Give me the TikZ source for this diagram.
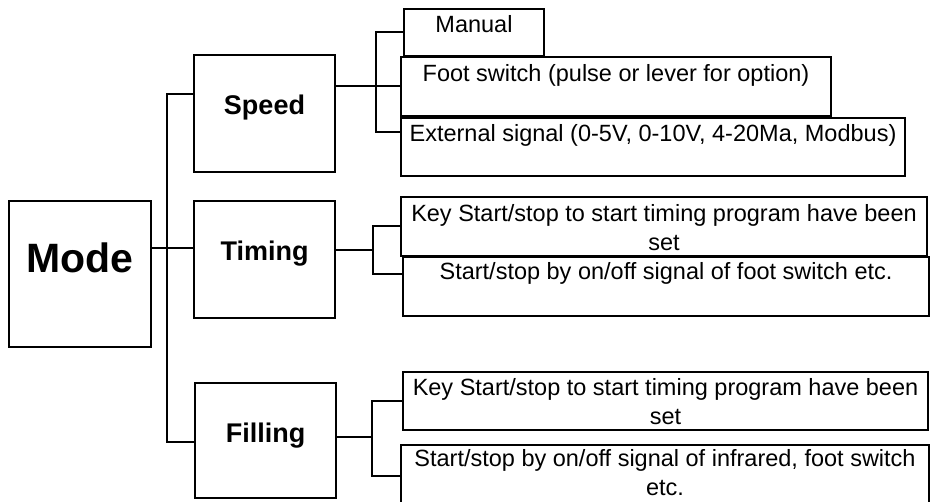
\documentclass[tikz,border=0pt]{standalone}
\usepackage{fontspec}
\setmainfont{Liberation Sans}
\usetikzlibrary{calc}
\begin{document}
\begin{tikzpicture}[x=1pt,y=-1pt,
  box/.style={draw, line width=2pt, inner sep=0pt, outer sep=0pt, anchor=north west},
  wire/.style={line width=2pt},
  trunk/.style={line width=2.5pt},
  txt/.style={font=\fontsize{23.5}{29}\selectfont, inner sep=0pt, anchor=base, align=center},
  head/.style={font=\fontsize{27}{32}\selectfont\bfseries, inner sep=0pt, anchor=base},
  big/.style={font=\fontsize{41}{48}\selectfont\bfseries, inner sep=0pt, anchor=base}]
\useasboundingbox (0,0) rectangle (930,502);
% level boxes
\node[box, minimum width=142, minimum height=146] (mode) at (9,201) {};
\node[box, minimum width=141, minimum height=117] (speed) at (194,55) {};
\node[box, minimum width=141, minimum height=117] (timing) at (194,201) {};
\node[box, minimum width=141, minimum height=115] (filling) at (195,383) {};
% speed children
\node[box, minimum width=140, minimum height=47] (manual) at (404,9) {};
\node[box, minimum width=430, minimum height=59] (foot) at (401,57) {};
\node[box, minimum width=504, minimum height=58] (ext) at (401,118) {};
% timing children
\node[box, minimum width=526, minimum height=59] (tkey) at (401,197) {};
\node[box, minimum width=526, minimum height=59] (tstart) at (403,257) {};
% filling children
\node[box, minimum width=525, minimum height=58] (fkey) at (403,372) {};
\node[box, minimum width=528, minimum height=62] (fstart) at (401,445) {};
% labels (base anchor = baseline of the last line)
\node[big] (modet) at ($(mode.north)+(0,72)$) {Mode};
\node[head] (speedt) at ($(speed.north)+(0,60)$) {Speed};
\node[head] (timingt) at ($(timing.north)+(0,60)$) {Timing};
\node[head] (fillingt) at ($(filling.north)+(0,60)$) {Filling};
\node[txt] (manualt) at ($(manual.north)+(0,24)$) {Manual};
\node[txt] (foott) at ($(foot.north)+(0,25)$) {Foot switch (pulse or lever for option)};
\node[txt] (extt) at ($(ext.north)+(0,24)$) {External signal (0-5V, 0-10V, 4-20Ma, Modbus)};
\node[txt] (tkeyt) at ($(tkey.north)+(0,54)$) {Key Start/stop to start timing program have been\\set};
\node[txt] (tstartt) at ($(tstart.north)+(0,23)$) {Start/stop by on/off signal of foot switch etc.};
\node[txt] (fkeyt) at ($(fkey.north)+(0,53)$) {Key Start/stop to start timing program have been\\set};
\node[txt] (fstartt) at ($(fstart.north)+(0,51)$) {Start/stop by on/off signal of infrared, foot switch\\etc.};
% main trunk
\coordinate (mj) at ($(mode.north east)+(0,47)$);
\draw[wire] (mj) -- (mj -| timing.west);
\coordinate (sj) at ($(speed.north west)+(0,39)$);
\coordinate (fj) at ($(filling.north west)+(0,59)$);
\draw[trunk] (sj) -- ++(-27,0) |- (fj);
% speed branch
\coordinate (sbus) at ($(foot.west)+(-25,0)$);
\draw[wire] (speed.east |- foot.west) -- (foot.west);
\draw[wire] (manual.west) -| (sbus) |- ($(ext.north west)+(0,14)$);
% timing branch
\coordinate (tbus) at ($(timing.north east)+(38,49)$);
\draw[wire] ($(timing.north east)+(0,49)$) -- (tbus);
\draw[wire] (tkey.west) -| (tbus) |- ($(tstart.north west)+(0,17)$);
% filling branch
\coordinate (fbus) at ($(filling.north east)+(36,54)$);
\draw[wire] ($(filling.north east)+(0,54)$) -- (fbus);
\draw[wire] (fkey.west) -| (fbus) |- (fstart.west);
\end{tikzpicture}
\end{document}
